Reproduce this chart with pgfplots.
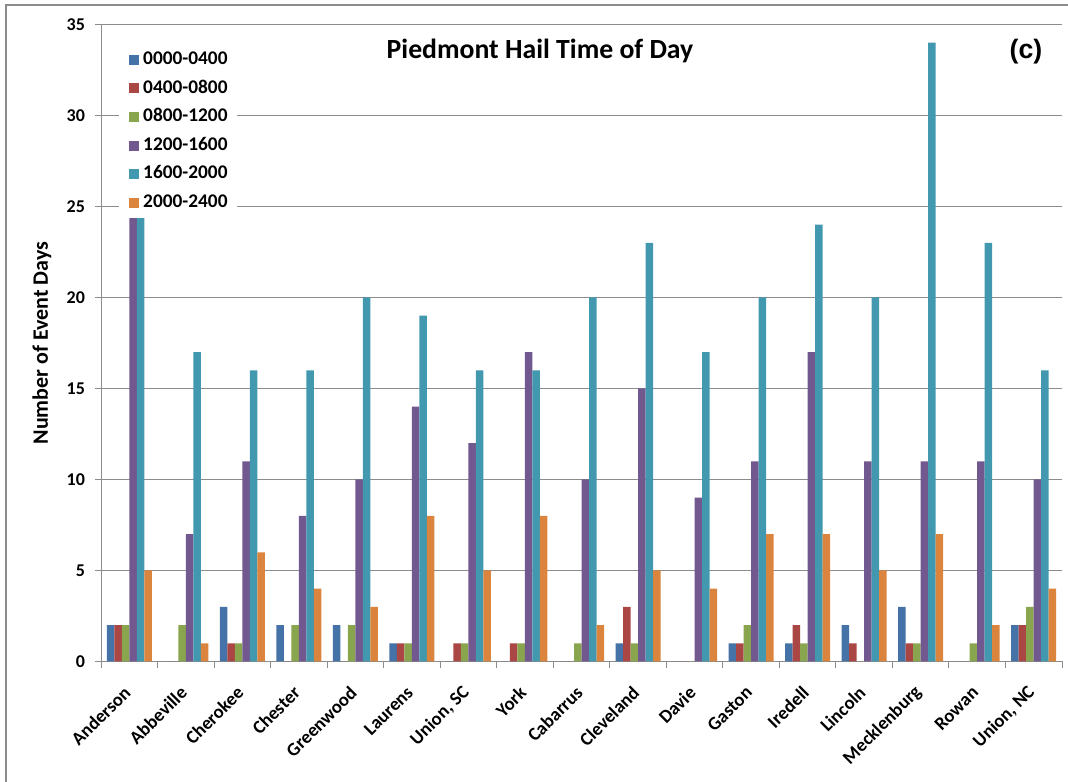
\documentclass[border=0pt]{standalone}
\usepackage{fontspec}
\setmainfont{Carlito}
\newfontfamily\arialfont{Liberation Sans}
\usepackage{pgfplots}
\pgfplotsset{compat=1.18}
\usepackage{pgfplotstable}

\definecolor{cA}{HTML}{4572A7}
\definecolor{cB}{HTML}{AA4643}
\definecolor{cC}{HTML}{89A54E}
\definecolor{cD}{HTML}{71588F}
\definecolor{cE}{HTML}{4198AF}
\definecolor{cF}{HTML}{DB843D}
\definecolor{gridgray}{HTML}{8C8C8C}

\pgfplotstableread{
x  a b c d    e    f
0  2 2 2 24.5 24.5 5
1  0 0 2 7    17   1
2  3 1 1 11   16   6
3  2 0 2 8    16   4
4  2 0 2 10   20   3
5  1 1 1 14   19   8
6  0 1 1 12   16   5
7  0 1 1 17   16   8
8  0 0 1 10   20   2
9  1 3 1 15   23   5
10 0 0 0 9    17   4
11 1 1 2 11   20   7
12 1 2 1 17   24   7
13 2 1 0 11   20   5
14 3 1 1 11   34   7
15 0 0 1 11   23   2
16 2 2 3 10   16   4
}\data

\begin{document}
\begin{tikzpicture}
\useasboundingbox (0,0) rectangle (801pt,586.5pt);
\draw[gridgray, line width=1.5pt] (4.5pt,0) -- (4.5pt,582.75pt) -- (801pt,582.75pt);
\begin{axis}[
  at={(75.75pt,90.375pt)}, anchor=south west,
  width=720.75pt, height=477.75pt, scale only axis,
  xmin=-0.5, xmax=16.5, ymin=0, ymax=35,
  ybar=0pt, bar width=5.625pt,
  /pgf/number format/assume math mode=true,
  xtick={0,...,16},
  xticklabels={Anderson,Abbeville,Cherokee,Chester,Greenwood,Laurens,{Union, SC},York,Cabarrus,Cleveland,Davie,Gaston,Iredell,Lincoln,Mecklenburg,Rowan,{Union, NC}},
  xticklabel style={yshift=-15pt, rotate=45, anchor=east, font=\bfseries\fontsize{14}{14}\selectfont, inner sep=2pt},
  ytick={0,5,...,35},
  yticklabel style={xshift=-4pt, font=\bfseries\fontsize{13.5}{13.5}\selectfont},
  ymajorgrids, grid style={gridgray, line width=0.75pt},
  axis x line*=bottom, axis y line*=left,
  axis line style={gridgray, line width=0.75pt, -},
  tick align=outside, major tick length=4.5pt,
  xtick style={draw=none},
  ytick style={gridgray, line width=0.75pt},
  extra x ticks={-0.5,0.5,...,16.5}, extra x tick labels={},
  extra x tick style={grid=none, xtick style={draw=gridgray, line width=0.75pt}},
  every axis y label/.style={at={(rel axis cs:0,0.5)}, xshift=-44.25pt, rotate=90, anchor=center, font=\bfseries\fontsize{16.5}{16.5}\selectfont},
  ylabel={Number of Event Days},
  legend style={at={(rel axis cs:0.0187,0.969)}, anchor=north west, draw=none, fill=white,
     font=\bfseries\fontsize{14.5}{14.5}\selectfont, row sep=6.45pt,
     nodes={inner sep=0pt, text height=11pt, text depth=4pt},
     inner xsep=7pt, inner ysep=4pt},
  legend cell align=left,
  legend image code/.code={\fill[#1] (0pt,-3.75pt) rectangle (7.5pt,3.75pt); \path (11pt,0);},
]
\addplot[fill=cA, draw=none] table[x=x,y=a] {\data};
\addplot[fill=cB, draw=none] table[x=x,y=b] {\data};
\addplot[fill=cC, draw=none] table[x=x,y=c] {\data};
\addplot[fill=cD, draw=none] table[x=x,y=d] {\data};
\addplot[fill=cE, draw=none] table[x=x,y=e] {\data};
\addplot[fill=cF, draw=none] table[x=x,y=f] {\data};
\legend{0000-0400,0400-0800,0800-1200,1200-1600,1600-2000,2000-2400}
\node[font=\bfseries\fontsize{20.8}{20.8}\selectfont] at (rel axis cs:0.4568,0.958) {Piedmont Hail Time of Day};
\node[font=\arialfont\bfseries\fontsize{20}{20}\selectfont] at (rel axis cs:0.9625,0.957) {(c)};
\end{axis}
\end{tikzpicture}
\end{document}
